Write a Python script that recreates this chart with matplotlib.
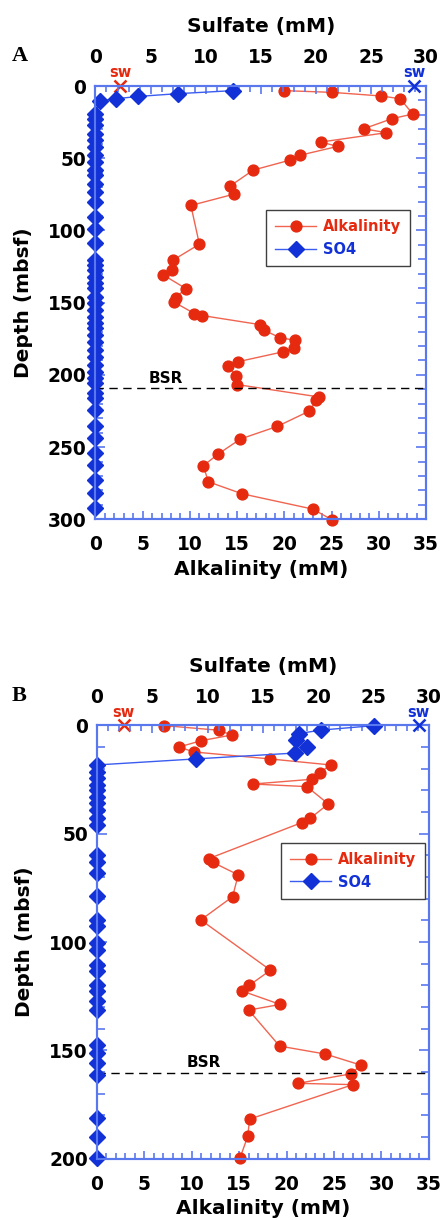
import numpy as np
import matplotlib.pyplot as plt
from matplotlib.ticker import MultipleLocator

# ---- site A : pore water profiles ----
a_alk_depth = [3.2, 4.4, 6.9, 8.8, 19.4, 22.6, 29.6, 32.3, 38.8, 41.8, 48.0, 51.3,
               58.2, 69.5, 74.8, 82.7, 109.5, 120.6, 127.7, 130.5, 140.2, 146.5,
               149.7, 157.5, 158.9, 165.2, 169.0, 174.2, 176.0, 181.4, 184.1, 190.8,
               194.0, 200.9, 206.7, 215.3, 217.6, 225.0, 235.6, 244.4, 254.8, 262.9,
               274.0, 282.3, 292.9, 300.5]
a_alk = [19.97, 25.05, 30.24, 32.25, 33.6, 31.4, 28.4, 30.8, 23.85, 25.65, 21.6, 20.6,
         16.7, 14.2, 14.7, 10.1, 11.0, 8.2, 8.05, 7.1, 9.56, 8.5,
         8.35, 10.47, 11.3, 17.43, 17.85, 19.5, 21.1, 20.99, 19.8, 15.13,
         14.07, 14.92, 15.02, 23.7, 23.36, 22.65, 19.26, 15.34, 12.98, 11.42,
         11.95, 15.52, 23.0, 25.09]
a_so4_depth = [3.2, 5.3, 7.2, 8.8, 10.2, 19.2, 22.6, 27.2, 33.0, 37.6, 42.2, 48.0,
               52.6, 58.4, 61.9, 67.6, 73.4, 80.3, 90.7, 98.8, 109.0, 120.5, 124.0,
               127.4, 132.0, 136.7, 140.1, 145.9, 150.5, 155.1, 159.8, 164.3, 167.8,
               172.4, 177.1, 182.8, 187.5, 193.2, 197.8, 202.4, 205.7, 212.6, 216.1,
               224.2, 235.7, 243.8, 254.2, 262.3, 272.6, 281.9, 292.2]
a_so4 = [12.46, 7.47, 3.9, 1.87, 0.42] + [0.0] * 46
a_bsr = 209.4
a_sw_alk = 2.6
a_sw_so4 = 28.9

# ---- site B ----
b_alk_depth = [0.15, 2.3, 4.5, 7.1, 10.0, 12.3, 15.5, 18.3, 21.8, 24.9, 27.1, 28.3,
               36.3, 42.9, 44.9, 61.5, 63.2, 69.0, 79.1, 89.8, 113.0, 120.0, 122.6,
               128.8, 131.4, 148.0, 151.7, 156.8, 160.8, 165.2, 165.8, 181.7, 189.7,
               199.5]
b_alk = [7.08, 12.9, 14.2, 11.0, 8.66, 10.2, 18.2, 24.65, 23.5, 22.7, 16.45, 22.15,
         24.4, 22.5, 21.6, 11.8, 12.2, 14.9, 14.3, 10.95, 18.3, 16.06, 15.3,
         19.33, 16.0, 19.26, 24.1, 27.85, 26.8, 21.2, 27.0, 16.1, 15.9,
         15.1]
b_so4_depth = [0.15, 2.2, 3.8, 6.8, 10.0, 12.8, 15.5, 18.3, 21.4, 24.5, 27.5, 29.9,
               32.9, 36.0, 39.1, 42.9, 46.0, 59.9, 62.9, 68.3, 78.9, 89.7, 92.8,
               100.5, 103.6, 110.5, 113.5, 119.7, 122.7, 127.4, 131.2, 147.5, 151.4,
               156.0, 161.4, 181.4, 189.8, 199.8]
b_so4 = [25.05, 20.3, 18.26, 17.96, 18.96, 17.93, 8.96] + [0.0] * 31
b_bsr = 160.3
b_sw_alk = 2.8
b_sw_so4 = 29.1

RED = '#e62a10'
RED_LINE = '#f06450'
BLUE = '#1232d8'
BLUE_LINE = '#3a5cf0'
AXCOL = '#5a78ee'

plt.rcParams['font.family'] = 'DejaVu Sans'
plt.rcParams['font.weight'] = 'bold'
plt.rcParams['axes.labelweight'] = 'bold'


def draw_panel(ax, alk_depth, alk, so4_depth, so4, bsr, bsr_x, sw_alk, sw_so4,
               ymax, leg_anchor):
    ax.set_xlim(0, 35)
    ax.set_ylim(ymax, 0)
    ax2 = ax.twiny()
    ax2.set_xlim(0, 30)

    # alkalinity on the bottom scale, sulfate on the top one
    h1, = ax.plot(alk, alk_depth, '-', color=RED_LINE, lw=1.0, marker='o',
                  ms=7.8, mfc=RED, mec=RED, clip_on=False, label='Alkalinity')
    h2, = ax2.plot(so4, so4_depth, '-', color=BLUE_LINE, lw=1.0, marker='D',
                   ms=8, mfc=BLUE, mec=BLUE, clip_on=False, label='SO4')

    # seawater values
    ax.plot(sw_alk, 0, 'x', color=RED, ms=9, mew=1.8, clip_on=False, zorder=5)
    ax.annotate('sw', (sw_alk, 0), xytext=(0, 4), textcoords='offset points',
                ha='center', va='bottom', color=RED, fontsize=10.5)
    ax2.plot(sw_so4, 0, 'x', color=BLUE, ms=9, mew=1.8, clip_on=False, zorder=5)
    ax2.annotate('sw', (sw_so4, 0), xytext=(0, 4), textcoords='offset points',
                 ha='center', va='bottom', color=BLUE, fontsize=10.5)

    # BSR
    ax.axhline(bsr, color='black', lw=1.0, ls=(0, (6, 4)))
    ax.annotate('BSR', (bsr_x, bsr), xytext=(0, 2), textcoords='offset points',
                ha='center', va='bottom', fontsize=11)

    ax.xaxis.set_major_locator(MultipleLocator(5))
    ax.xaxis.set_minor_locator(MultipleLocator(1))
    ax2.xaxis.set_major_locator(MultipleLocator(5))
    ax2.xaxis.set_minor_locator(MultipleLocator(1))
    ax.yaxis.set_major_locator(MultipleLocator(50))
    ax.yaxis.set_minor_locator(MultipleLocator(10))

    ax.tick_params(axis='x', which='both', direction='in', color=AXCOL,
                   labelsize=13.4, pad=11.5)
    ax2.tick_params(axis='x', which='both', direction='in', color=AXCOL,
                    labelsize=13.4, pad=13.5)
    ax.tick_params(axis='y', which='both', direction='in', color=AXCOL,
                   right=True, labelsize=13.4, pad=6.5)
    for a in (ax, ax2):
        a.tick_params(which='major', length=6, width=1.2)
        a.tick_params(which='minor', length=4, width=1.2)
        for s in a.spines.values():
            s.set_color(AXCOL)
            s.set_linewidth(1.5)
    ax.tick_params(axis='y', which='major', length=7)
    ax.tick_params(axis='y', which='minor', length=6)

    ax.set_xlabel('Alkalinity (mM)', fontsize=14.5)
    ax.xaxis.set_label_coords(0.5, -0.093)
    ax2.set_xlabel('Sulfate (mM)', fontsize=14.5)
    ax2.xaxis.set_label_coords(0.5, 1.124)
    ax.set_ylabel('Depth (mbsf)', fontsize=14.5)
    ax.yaxis.set_label_coords(-0.19, 0.5)

    leg = ax2.legend([h1, h2], ['Alkalinity', 'SO4'], loc='upper left',
                     bbox_to_anchor=leg_anchor, fontsize=10.5, handlelength=2.8,
                     handletextpad=0.45, fancybox=False, framealpha=1,
                     edgecolor='#404040', borderpad=0.65, borderaxespad=0)
    leg.get_frame().set_linewidth(1.0)
    leg.get_texts()[0].set_color(RED)
    leg.get_texts()[1].set_color(BLUE)


fig = plt.figure(figsize=(4.42, 12.2), dpi=100)
ax_a = fig.add_axes([0.216, 0.5743, 0.748, 0.3552])
ax_b = fig.add_axes([0.2195, 0.0502, 0.7505, 0.3553])

draw_panel(ax_a, a_alk_depth, a_alk, a_so4_depth, a_so4, a_bsr, 7.4,
           a_sw_alk, a_sw_so4, 300, (0.515, 0.714))
draw_panel(ax_b, b_alk_depth, b_alk, b_so4_depth, b_so4, b_bsr, 11.3,
           b_sw_alk, b_sw_so4, 200, (0.554, 0.729))

fig.text(0.027, 0.962, 'A', family='Liberation Serif', fontsize=16,
         fontweight='bold', va='top')
fig.text(0.027, 0.438, 'B', family='Liberation Serif', fontsize=16,
         fontweight='bold', va='top')

fig.savefig('out.png', dpi=100)
